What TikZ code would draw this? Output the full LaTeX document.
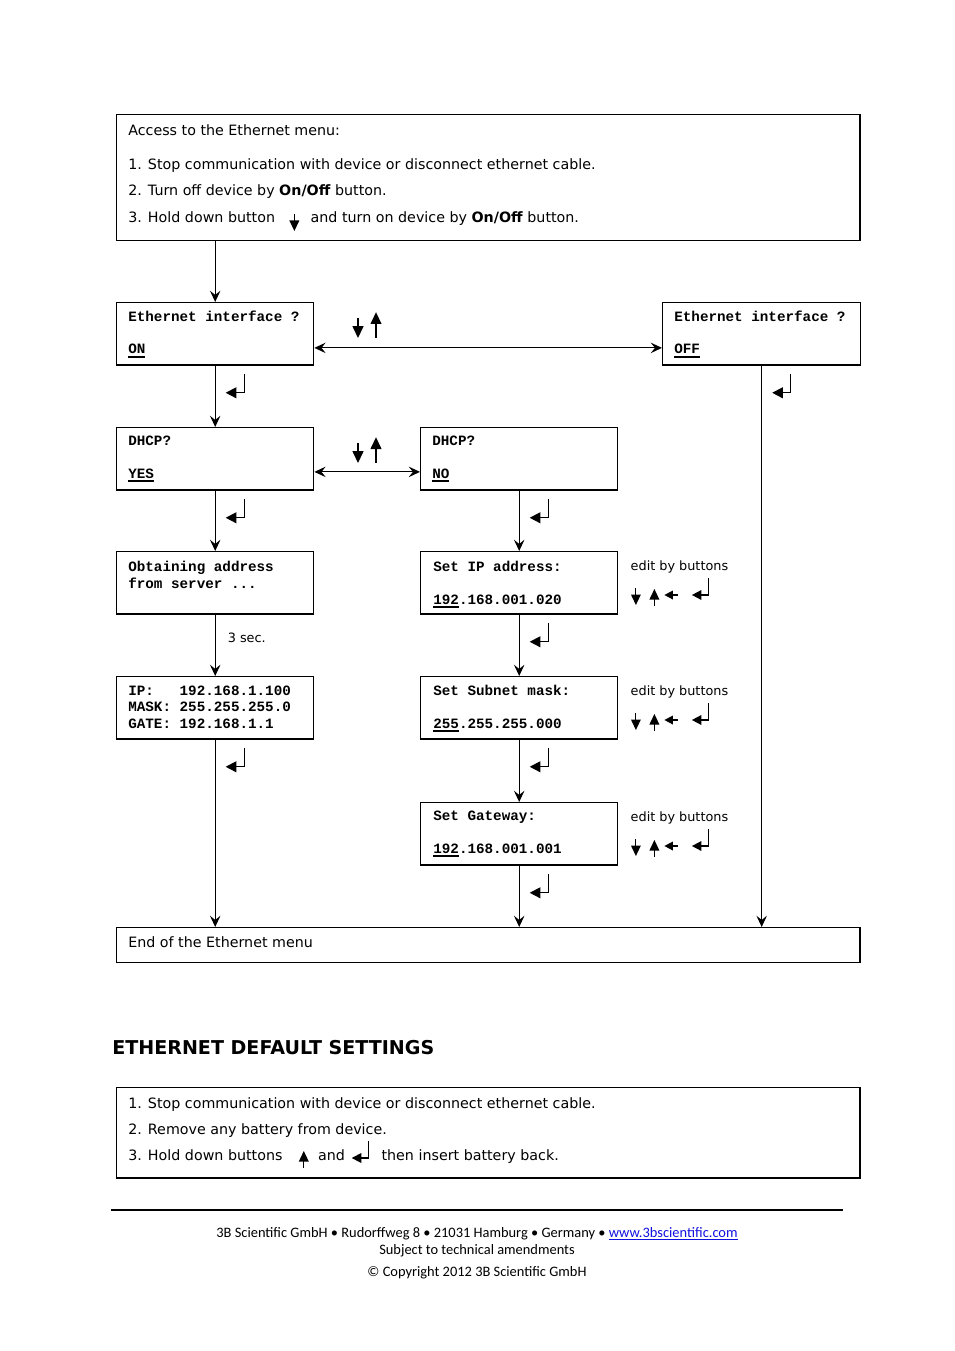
\documentclass[tikz,border=0pt]{standalone}
\usepackage{fontspec}
\setmainfont{DejaVu Sans}
\newfontfamily\lcdfont{Liberation Mono}
\newfontfamily\footfont{Carlito}
\usetikzlibrary{arrows.meta}
\usetikzlibrary{positioning}
\definecolor{linkblue}{RGB}{16,16,224}
\newsavebox\selbox
\newcommand{\sel}[1]{\sbox\selbox{#1}\rlap{\rule[-2.6pt]{\wd\selbox}{1.1pt}}\usebox\selbox}
\tikzset{
    key len/.store in=\keylen, key len=17,
    keydn/.pic={
        \draw[line width=0.7pt] (0,-\keylen) -- (0,-9);
        \fill (-5,-10.5) -- (5,-10.5) -- (0,0) -- cycle;
    },
    keyup/.pic={
        \fill (0,-\keylen) -- (-5,-\keylen+10.5) -- (5,-\keylen+10.5) -- cycle;
        \draw[line width=0.7pt] (0,-\keylen+9) -- (0,0);
    },
    keyleft/.pic={
        \fill (0,0) -- (8.5,-4.5) -- (8.5,4.5) -- cycle;
        \draw[line width=0.7pt] (7,0) -- (14,0);
    },
    keyenter/.pic={
        \draw[line width=0.7pt] (0,-17) -- (0,0) -- (-7,0);
        \fill (-7,-5) -- (-7,5) -- (-16.5,0) -- cycle;
    },
    bigkey/.style={scale=1.12},
}

\begin{document}
\begin{tikzpicture}[x=0.624pt, y=-0.624pt,
    box/.style={draw, line width=0.9pt, anchor=north west, inner sep=0pt,
        minimum width=122.9pt, minimum height=38.9pt},
    wide/.style={box, minimum width=463.8pt},
    txt/.style={anchor=base west, inner sep=0pt, font={\fontsize{8.9}{11}\selectfont}},
    note/.style={anchor=base west, inner sep=0pt, font={\fontsize{8}{10}\selectfont}},
    lcd/.style={anchor=base west, inner sep=0pt, align=left,
        font={\lcdfont\bfseries\fontsize{8.9}{10}\selectfont}},
    arr/.style={-{Stealth[length=7pt,width=6.5pt,inset=2.6pt]}, line width=0.75pt},
    arr2/.style={{Stealth[length=7pt,width=6.5pt,inset=2.6pt]}-{Stealth[length=7pt,width=6.5pt,inset=2.6pt]}, line width=0.75pt},
    foot/.style={anchor=base, inner sep=0pt, font={\footfont\fontsize{9}{11}\selectfont}},
]
    \useasboundingbox (0,0) rectangle (954,1351);

    % access box
    \node[wide, minimum height=78.6pt] (top) at (116,114) {};
    \node[txt] (acc) at (128,136) {Access to the Ethernet menu:};
    \node[txt] (t1) at (128,170) {1. Stop communication with device or disconnect ethernet cable.};
    \node[txt] (t2) at (128,196) {2. Turn off device by \textbf{On/Off} button.};
    \node[txt] (t3) at (128,223) {3. Hold down button};
    \pic at ([shift={(19,8)}]t3.base east) {keydn};
    \node[txt] (t3b) at ([shift={(35,0)}]t3.base east) {and turn on device by \textbf{On/Off} button.};

    % menu boxes
    \node[box] (eon) at (116,302) {};
    \node[box, minimum width=123.5pt] (eoff) at (662,302) {};
    \node[box] (dyes) at (116,427) {};
    \node[box] (dno) at (420,427) {};
    \node[box] (obt) at (116,551) {};
    \node[box] (sip) at (420,551) {};
    \node[box] (ipb) at (116,676) {};
    \node[box] (smask) at (420,676) {};
    \node[box] (sgw) at (420,802) {};
    \node[wide, minimum height=21.8pt] (endm) at (116,927) {};

    % base of the last line
    \node[lcd] (eontxt) at ([shift={(12,52)}]eon.north west) {Ethernet interface ?\\[10pt]\sel{ON}};
    \node[lcd] (eofftxt) at ([shift={(12,52)}]eoff.north west) {Ethernet interface ?\\[10pt]\sel{OFF}};
    \node[lcd] (dyestxt) at ([shift={(12,51)}]dyes.north west) {DHCP?\\[10pt]\sel{YES}};
    \node[lcd] (dnotxt) at ([shift={(12,51)}]dno.north west) {DHCP?\\[10pt]\sel{NO}};
    \node[lcd] (obttxt) at ([shift={(12,37)}]obt.north west) {Obtaining address\\from server ...};
    \node[lcd] (siptxt) at ([shift={(13,53)}]sip.north west) {Set IP address:\\[10pt]\sel{192}.168.001.020};
    \node[lcd] (ipbtxt) at ([shift={(12,52)}]ipb.north west) {IP:\hphantom{000}192.168.1.100\\MASK: 255.255.255.0\\GATE: 192.168.1.1};
    \node[lcd] (smasktxt) at ([shift={(13,52)}]smask.north west) {Set Subnet mask:\\[10pt]\sel{255}.255.255.000};
    \node[lcd] (sgwtxt) at ([shift={(13,51)}]sgw.north west) {Set Gateway:\\[10pt]\sel{192}.168.001.001};
    \node[txt] (endtxt) at ([shift={(12,20)}]endm.north west) {End of the Ethernet menu};

    % connectors
    \draw[arr] (eon.north |- top.south) -- (eon.north);
    \draw[arr2] ([shift={(0,14)}]eon.east) -- ([shift={(0,14)}]eoff.west);
    \draw[arr] (eon) -- (dyes);
    \draw[arr] (eoff) -- (eoff |- endm.north);
    \draw[arr2] ([shift={(0,13)}]dyes.east) -- ([shift={(0,13)}]dno.west);
    \draw[arr] (dyes) -- (obt);
    \draw[arr] (dno) -- (sip);
    \draw[arr] (obt) -- node[note, anchor=west, shift={(12,-8)}] (delay) {3 sec.} (ipb);
    \draw[arr] (ipb) -- (ipb |- endm.north);
    \draw[arr] (sip) -- (smask);
    \draw[arr] (smask) -- (sgw);
    \draw[arr] (sgw) -- (sgw |- endm.north);

    % buttons
    \foreach \y in {338,463}{
        \pic[bigkey, key len=18] at (358,\y) {keydn};
        \pic[bigkey, key len=23] at (376,\y) {keyup};
    }
    \foreach \b in {eon,eoff,dyes,dno,sip,smask,sgw,ipb}
        \pic[bigkey] at ([shift={(29,27)}]\b.south) {keyenter};
    \foreach \b in {sip,smask,sgw}{
        \node[note] (edit\b) at ([shift={(12,19)}]\b.north east) {edit by buttons};
        \pic at ([shift={(17.5,54)}]\b.north east) {keydn};
        \pic at ([shift={(36,55)}]\b.north east) {keyup};
        \pic at ([shift={(46,44)}]\b.north east) {keyleft};
        \pic at ([shift={(90,44)}]\b.north east) {keyenter};
    }

    % default settings
    \node[anchor=base west, inner sep=0pt, font={\bfseries\fontsize{11.9}{14}\selectfont}] (head) at (112,1054) {ETHERNET DEFAULT SETTINGS};
    \node[wide, minimum height=56.2pt] (dflt) at (116,1087) {};
    \node[txt] (b1) at (128,1108) {1. Stop communication with device or disconnect ethernet cable.};
    \node[txt] (b2) at (128,1134) {2. Remove any battery from device.};
    \node[txt] (b3) at (128,1160) {3. Hold down buttons};
    \pic at ([shift={(21,8)}]b3.base east) {keyup};
    \node[txt] (b3and) at ([shift={(35,0)}]b3.base east) {and};
    \pic at ([shift={(23,-2)}]b3and.base east) {keyenter};
    \node[txt] (b3c) at ([shift={(36,0)}]b3and.base east) {then insert battery back.};

    % footer
    \draw[line width=0.8pt] (111,1210) -- (843,1210);
    \node[foot] (f1) at (477,1237) {3B Scientific GmbH • Rudorffweg 8 • 21031 Hamburg • Germany • \textcolor{linkblue}{\underline{www.3bscientific.com}}};
    \node[foot] (f2) at (477,1254) {Subject to technical amendments};
    \node[foot] (f3) at (477,1276) {© Copyright 2012 3B Scientific GmbH};
\end{tikzpicture}
\end{document}
